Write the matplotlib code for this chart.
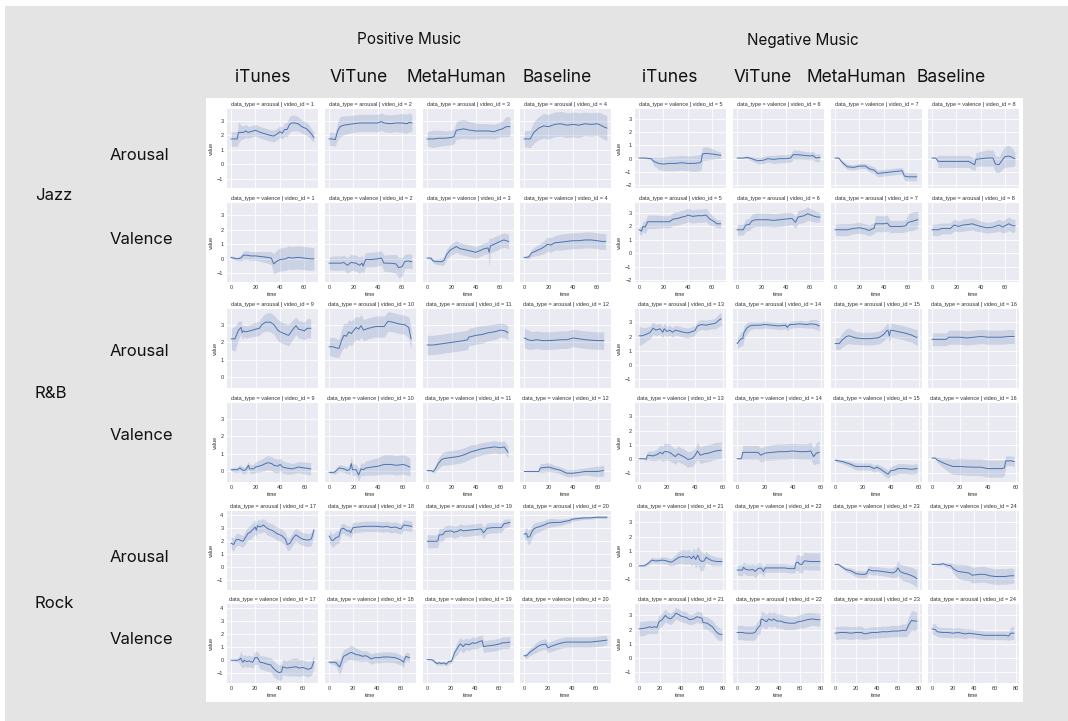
import matplotlib
matplotlib.use("Agg")
import matplotlib.pyplot as plt
import numpy as np
from matplotlib.patches import Rectangle

# ---------------- data (time keypoints, mean, CI half-width) ----------------
# Jazz, positive music
ar1_t = [0,5,6,8,10,12,14,16,20,24,28,32,35,38,40,42,44,46,48,50,52,55,58,62,65,68]
ar1_mean = [1.75,1.75,2.2,2.2,2.2,2.3,2.2,2.25,2.35,2.2,2.1,2.0,1.95,2.1,2.25,2.15,2.4,2.4,2.75,2.85,2.85,2.8,2.6,2.45,2.2,1.85]
ar1_ci = [0.5,0.5,0.75,0.5,0.45,0.45,0.4,0.4,0.4,0.4,0.4,0.4,0.4,0.4,0.4,0.4,0.45,0.5,0.55,0.55,0.55,0.5,0.45,0.45,0.4,0.35]
ar2_t = [0,3,5,7,9,12,16,20,25,30,35,40,43,45,50,55,60,64,66,68]
ar2_mean = [1.75,1.75,1.7,2.3,2.6,2.7,2.75,2.8,2.85,2.85,2.85,2.85,2.95,2.85,2.8,2.85,2.85,2.8,2.9,2.85]
ar2_ci = [0.45,0.45,0.45,0.6,0.7,0.65,0.6,0.6,0.6,0.6,0.6,0.6,0.6,0.6,0.6,0.6,0.65,0.65,0.65,0.6]
ar3_t = [0,5,10,15,20,22,24,27,30,35,40,45,50,55,58,62,65,68]
ar3_mean = [1.75,1.75,1.8,1.8,1.85,1.9,2.35,2.4,2.45,2.35,2.3,2.3,2.3,2.25,2.35,2.45,2.6,2.6]
ar3_ci = [0.5,0.6,0.55,0.5,0.5,0.5,0.6,0.65,0.65,0.6,0.55,0.5,0.5,0.5,0.5,0.55,0.7,0.65]
ar4_t = [0,5,8,12,16,20,25,30,35,40,45,50,55,60,63,65,68]
ar4_mean = [1.75,1.75,2.2,2.5,2.65,2.6,2.75,2.8,2.7,2.75,2.7,2.8,2.75,2.8,2.7,2.6,2.5]
ar4_ci = [0.55,0.6,0.75,0.8,0.85,0.85,0.85,0.85,0.85,0.85,0.85,0.8,0.8,0.8,0.85,0.85,0.85]
va1_t = [0,2,5,8,10,13,16,20,25,30,33,35,37,40,45,47,50,55,60,65,68]
va1_mean = [0.1,0.05,0.0,0.05,0.25,0.25,0.2,0.2,0.15,0.1,0.05,-0.35,-0.2,-0.05,0.0,0.1,0.05,0.1,0.05,0.0,0.0]
va1_ci = [0.1,0.1,0.1,0.2,0.3,0.3,0.3,0.3,0.35,0.4,0.45,0.7,0.75,0.8,0.8,0.8,0.8,0.8,0.8,0.8,0.75]
va2_t = [0,5,10,12,15,18,22,25,27,28,30,35,40,43,45,50,55,57,60,62,65,68]
va2_mean = [-0.3,-0.3,-0.3,-0.25,-0.45,-0.25,-0.3,-0.45,-0.3,-0.5,-0.05,-0.05,0.0,0.05,-0.3,-0.3,-0.35,-0.6,-0.55,-0.2,-0.15,-0.2]
va2_ci = [0.45,0.5,0.5,0.5,0.55,0.55,0.55,0.55,0.55,0.5,0.5,0.5,0.5,0.5,0.55,0.6,0.65,0.7,0.65,0.5,0.5,0.5]
va3_t = [0,3,5,8,12,14,16,19,21,24,27,30,35,40,43,47,50,51,52,55,60,63,67]
va3_mean = [0.05,0.05,-0.15,-0.2,-0.2,-0.1,0.3,0.6,0.7,0.85,0.7,0.65,0.55,0.45,0.55,0.7,0.75,0.45,0.9,1.0,1.2,1.3,1.2]
va3_ci = [0.05,0.1,0.15,0.2,0.25,0.3,0.35,0.4,0.4,0.4,0.4,0.4,0.4,0.4,0.4,0.4,0.4,1.0,0.5,0.5,0.5,0.5,0.5]
va4_t = [0,2,4,6,10,14,17,19,22,25,30,35,40,45,50,55,60,64,67]
va4_mean = [0.1,0.1,0.15,0.4,0.55,0.7,0.85,1.0,0.95,1.1,1.15,1.2,1.25,1.25,1.3,1.3,1.25,1.2,1.2]
va4_ci = [0.05,0.1,0.15,0.25,0.35,0.4,0.45,0.5,0.5,0.5,0.55,0.55,0.55,0.55,0.55,0.55,0.55,0.55,0.55]

# Jazz, negative music
va5_t = [0,5,10,12,16,20,25,30,35,40,45,50,51,52,55,60,64,67]
va5_mean = [0.05,0.05,0.0,-0.2,-0.35,-0.4,-0.35,-0.35,-0.3,-0.35,-0.35,-0.3,-0.2,0.35,0.4,0.35,0.3,0.25]
va5_ci = [0.03,0.05,0.1,0.3,0.45,0.5,0.55,0.55,0.55,0.55,0.6,0.6,0.6,0.5,0.5,0.4,0.3,0.25]
va6_t = [0,5,8,12,15,18,22,25,30,35,40,44,46,50,55,60,62,65,68]
va6_mean = [0.05,0.05,0.1,0.0,-0.1,-0.15,-0.1,0.0,-0.05,0.0,0.0,0.05,0.3,0.3,0.25,0.2,0.25,0.05,0.1]
va6_ci = [0.03,0.05,0.1,0.15,0.2,0.25,0.25,0.25,0.3,0.3,0.3,0.3,0.35,0.35,0.3,0.3,0.3,0.3,0.3]
va7_t = [0,3,6,10,15,20,25,28,32,35,40,45,50,55,57,60,67]
va7_mean = [0.05,0.05,-0.3,-0.6,-0.65,-0.55,-0.55,-0.75,-0.85,-1.1,-1.05,-1.0,-0.95,-0.9,-1.3,-1.35,-1.35]
va7_ci = [0.03,0.05,0.15,0.2,0.2,0.2,0.2,0.25,0.25,0.25,0.25,0.25,0.25,0.25,0.3,0.3,0.3]
va8_t = [0,3,5,10,20,30,33,35,36,40,45,50,52,55,58,60,63,66,68]
va8_mean = [0.05,0.05,-0.2,-0.2,-0.2,-0.2,-0.35,-0.45,-0.05,0.0,0.05,0.05,-0.4,-0.45,-0.05,0.15,0.2,0.1,0.0]
va8_ci = [0.03,0.05,0.45,0.45,0.45,0.45,0.45,0.45,0.5,0.55,0.6,0.6,0.6,0.6,0.7,0.8,0.8,0.7,0.5]
ar5_t = [0,2,3,5,7,12,20,25,28,32,35,38,40,44,48,52,55,58,61,64,67]
ar5_mean = [1.75,1.65,2.0,1.95,2.35,2.35,2.35,2.35,2.55,2.6,2.7,2.75,2.85,2.75,2.8,2.8,2.85,2.55,2.4,2.2,2.2]
ar5_ci = [0.3,0.3,0.4,0.45,0.5,0.5,0.45,0.45,0.5,0.5,0.5,0.5,0.5,0.5,0.5,0.5,0.5,0.45,0.35,0.3,0.3]
ar6_t = [0,5,7,10,12,15,20,25,30,35,40,45,47,48,50,55,58,62,66,68]
ar6_mean = [1.75,1.75,2.1,2.15,2.4,2.5,2.5,2.5,2.45,2.5,2.55,2.6,2.4,2.3,2.7,2.8,2.95,2.8,2.7,2.7]
ar6_ci = [0.4,0.4,0.45,0.45,0.5,0.5,0.5,0.5,0.5,0.5,0.5,0.45,0.45,0.45,0.5,0.5,0.5,0.45,0.4,0.35]
ar7_t = [0,5,10,15,20,25,28,30,32,33,40,43,45,50,55,58,60,64,68]
ar7_mean = [1.75,1.75,1.75,1.85,1.9,1.8,1.7,1.8,1.85,2.2,2.2,2.25,2.0,2.0,2.0,2.05,2.3,2.4,2.5]
ar7_ci = [0.4,0.45,0.45,0.4,0.4,0.4,0.4,0.4,0.4,0.6,0.6,0.6,0.45,0.45,0.45,0.45,0.65,0.7,0.65]
ar8_t = [0,5,8,15,18,22,25,30,33,36,40,45,50,55,58,60,63,66,68]
ar8_mean = [1.75,1.75,1.85,1.85,2.1,2.0,2.1,2.15,2.2,2.1,2.0,1.9,1.95,2.1,1.95,2.05,2.2,2.05,2.05]
ar8_ci = [0.4,0.45,0.4,0.4,0.45,0.4,0.45,0.45,0.45,0.45,0.4,0.4,0.4,0.45,0.45,0.5,0.5,0.5,0.45]

# R&B, positive music
ar9_t = [0,3,6,8,9,10,12,15,20,23,25,28,32,35,38,40,45,47,50,53,55,58,60,62,65]
ar9_mean = [2.2,2.2,2.7,2.85,2.55,2.65,2.6,2.65,2.75,2.8,3.0,3.15,3.15,3.0,2.7,2.6,2.45,2.4,2.7,2.95,2.75,2.7,2.65,2.8,2.8]
ar9_ci = [0.6,0.7,0.5,0.4,0.4,0.35,0.35,0.35,0.4,0.4,0.45,0.5,0.55,0.55,0.6,0.6,0.6,0.6,0.55,0.5,0.5,0.5,0.5,0.55,0.55]
ar10_t = [0,3,5,8,10,12,14,16,18,22,24,26,28,32,38,45,48,52,57,62,65,67]
ar10_mean = [1.75,1.75,1.7,1.65,2.1,2.4,2.35,2.6,2.5,2.85,2.75,2.95,2.7,2.8,2.9,2.9,3.2,3.15,3.05,3.0,2.85,2.2]
ar10_ci = [0.5,0.55,0.55,0.5,0.6,0.7,0.7,0.7,0.7,0.65,0.65,0.65,0.6,0.6,0.6,0.6,0.55,0.55,0.55,0.55,0.6,0.6]
ar11_t = [0,5,10,15,20,25,30,33,34,40,45,50,55,60,64,66]
ar11_mean = [1.85,1.85,1.9,1.95,2.0,2.05,2.1,2.15,2.3,2.4,2.45,2.55,2.6,2.7,2.65,2.55]
ar11_ci = [0.55,0.55,0.55,0.55,0.55,0.55,0.55,0.55,0.5,0.5,0.5,0.45,0.45,0.4,0.4,0.4]
ar12_t = [0,3,6,10,15,20,25,30,35,40,45,50,55,60,65]
ar12_mean = [2.25,2.15,2.1,2.15,2.1,2.1,2.12,2.15,2.15,2.25,2.2,2.15,2.12,2.1,2.1]
ar12_ci = [0.55,0.55,0.5,0.5,0.5,0.5,0.5,0.5,0.5,0.5,0.5,0.5,0.5,0.5,0.5]
va9_t = [0,5,7,9,10,12,14,15,18,20,25,28,30,33,35,38,40,42,45,50,55,60,65]
va9_mean = [0.1,0.1,0.2,0.1,0.05,0.1,0.35,0.15,0.15,0.25,0.35,0.45,0.5,0.45,0.35,0.3,0.4,0.25,0.2,0.15,0.25,0.2,0.15]
va9_ci = [0.1,0.15,0.2,0.2,0.2,0.2,0.25,0.25,0.25,0.3,0.35,0.4,0.4,0.4,0.4,0.4,0.35,0.35,0.35,0.3,0.3,0.35,0.35]
va10_t = [0,4,5,8,12,15,17,18,19,22,24,26,28,30,35,40,45,50,55,60,63,66]
va10_mean = [-0.05,-0.05,0.0,0.2,0.15,0.05,0.15,0.45,0.1,0.1,-0.2,0.15,0.1,0.2,0.25,0.3,0.4,0.4,0.35,0.4,0.35,0.25]
va10_ci = [0.05,0.1,0.15,0.2,0.2,0.2,0.3,0.4,0.35,0.3,0.35,0.35,0.35,0.4,0.45,0.5,0.55,0.55,0.55,0.55,0.55,0.5]
va11_t = [0,3,5,7,9,12,15,20,25,28,30,32,35,40,45,50,55,60,63,66]
va11_mean = [0.05,0.05,0.0,0.2,0.45,0.7,0.75,0.8,0.85,0.9,0.95,1.0,1.1,1.2,1.3,1.35,1.4,1.35,1.4,1.1]
va11_ci = [0.05,0.05,0.1,0.2,0.3,0.35,0.4,0.4,0.4,0.4,0.4,0.4,0.4,0.35,0.35,0.35,0.35,0.35,0.35,0.35]
va12_t = [0,5,12,13,20,25,28,30,35,40,45,50,55,60,65]
va12_mean = [0.0,0.0,0.0,0.2,0.25,0.15,0.1,0.05,-0.1,-0.1,-0.05,0.0,0.0,0.0,0.05]
va12_ci = [0.01,0.01,0.02,0.25,0.25,0.2,0.2,0.2,0.2,0.2,0.2,0.2,0.25,0.3,0.3]

# R&B, negative music
ar13_t = [0,2,5,8,10,12,15,17,18,20,22,24,26,28,32,35,38,40,42,45,48,50,53,55,58,59]
ar13_mean = [2.05,2.05,2.15,2.3,2.6,2.45,2.55,2.3,2.55,2.35,2.45,2.3,2.45,2.4,2.3,2.25,2.35,2.4,2.75,2.85,2.8,2.85,2.9,2.95,3.2,3.25]
ar13_ci = [0.7,0.6,0.5,0.45,0.45,0.4,0.4,0.4,0.4,0.35,0.35,0.35,0.35,0.35,0.35,0.35,0.35,0.35,0.35,0.35,0.35,0.35,0.35,0.4,0.45,0.45]
ar14_t = [0,2,3,4,5,7,9,12,16,20,25,30,35,36,38,40,45,50,53,57,59]
ar14_mean = [1.5,1.75,1.85,1.85,2.3,2.6,2.75,2.8,2.8,2.85,2.8,2.75,2.8,2.65,2.85,2.85,2.9,2.85,2.9,2.85,2.75]
ar14_ci = [0.4,0.45,0.5,0.5,0.45,0.4,0.3,0.25,0.25,0.25,0.25,0.25,0.25,0.25,0.25,0.25,0.25,0.25,0.3,0.35,0.35]
ar15_t = [0,3,5,8,10,13,15,20,25,30,32,35,37,38,39,40,43,45,50,55,58,59]
ar15_mean = [1.5,1.5,1.75,2.0,2.05,1.95,1.9,1.85,1.85,1.9,1.95,2.15,2.4,2.45,2.05,2.45,2.4,2.35,2.25,2.1,1.95,1.95]
ar15_ci = [0.4,0.45,0.5,0.55,0.55,0.5,0.45,0.45,0.45,0.45,0.45,0.45,0.5,0.5,0.4,0.5,0.5,0.5,0.5,0.5,0.55,0.55]
ar16_t = [0,5,10,12,15,20,25,30,35,40,45,50,55,59]
ar16_mean = [1.8,1.8,1.8,1.95,1.95,1.95,1.9,1.95,2.0,1.95,1.95,1.95,2.0,2.0]
ar16_ci = [0.45,0.45,0.45,0.5,0.5,0.5,0.5,0.5,0.5,0.5,0.5,0.5,0.5,0.5]
va13_t = [0,4,5,6,10,13,15,17,18,20,22,24,26,28,30,32,35,38,40,42,44,47,50,55,59]
va13_mean = [0.0,0.0,-0.05,0.25,0.2,0.3,0.45,0.35,0.5,0.5,0.45,0.3,0.15,0.35,0.25,0.15,-0.05,0.0,0.2,0.55,0.25,0.35,0.4,0.55,0.6]
va13_ci = [0.03,0.05,0.1,0.3,0.35,0.4,0.5,0.55,0.6,0.6,0.6,0.55,0.55,0.55,0.55,0.55,0.55,0.55,0.55,0.6,0.6,0.6,0.6,0.6,0.6]
va14_t = [0,3,4,10,15,17,20,25,30,35,40,45,50,53,55,57,59]
va14_mean = [0.0,0.0,0.45,0.45,0.45,0.25,0.4,0.45,0.5,0.5,0.55,0.5,0.5,0.55,0.15,0.4,0.45]
va14_ci = [0.03,0.05,0.5,0.5,0.5,0.5,0.5,0.55,0.55,0.55,0.55,0.55,0.55,0.6,0.6,0.75,0.8]
va15_t = [0,5,10,15,20,25,28,30,33,35,38,40,43,45,50,55,59]
va15_mean = [-0.1,-0.2,-0.35,-0.55,-0.55,-0.55,-0.7,-0.6,-0.75,-0.9,-1.1,-0.85,-0.8,-0.7,-0.7,-0.75,-0.7]
va15_ci = [0.1,0.15,0.2,0.25,0.25,0.25,0.25,0.25,0.25,0.3,0.3,0.3,0.35,0.35,0.35,0.35,0.35]
va16_t = [0,2,4,8,12,15,20,25,30,35,40,45,50,52,53,57,59]
va16_mean = [0.05,0.05,-0.1,-0.3,-0.45,-0.55,-0.55,-0.58,-0.6,-0.6,-0.7,-0.7,-0.7,-0.65,-0.15,-0.15,-0.2]
va16_ci = [0.03,0.05,0.2,0.35,0.5,0.55,0.6,0.6,0.6,0.6,0.6,0.6,0.6,0.55,0.35,0.35,0.35]

# Rock, positive music
ar17_t = [0,2,4,6,8,10,12,14,16,18,20,21,22,24,27,30,35,38,42,45,47,49,52,54,57,60,63,65,67,69]
ar17_mean = [1.85,1.75,2.1,2.15,2.05,2.0,2.3,2.6,2.7,2.9,3.1,2.85,3.2,3.1,3.25,3.0,2.8,2.6,2.45,2.2,1.75,1.85,2.3,2.5,2.3,2.15,2.1,2.1,2.2,2.85]
ar17_ci = [0.5,0.5,0.5,0.45,0.45,0.45,0.5,0.5,0.55,0.55,0.55,0.5,0.5,0.5,0.5,0.5,0.5,0.5,0.5,0.5,0.5,0.5,0.5,0.5,0.5,0.5,0.5,0.5,0.5,0.35]
ar18_t = [0,2,3,6,8,10,12,15,17,18,19,20,25,30,35,40,45,48,52,55,58,60,62,66,69]
ar18_mean = [2.4,2.1,2.05,2.3,2.35,2.95,3.0,2.8,2.8,2.65,2.9,3.05,3.1,3.15,3.15,3.15,3.1,3.15,3.05,3.1,3.0,2.95,3.25,3.2,3.15]
ar18_ci = [0.5,0.5,0.5,0.5,0.5,0.4,0.4,0.4,0.4,0.4,0.4,0.4,0.4,0.4,0.4,0.4,0.4,0.4,0.4,0.4,0.4,0.4,0.4,0.4,0.4]
ar19_t = [0,5,8,9,10,13,15,20,22,25,28,30,35,40,45,47,50,55,60,62,64,67,69]
ar19_mean = [2.0,2.0,2.0,2.05,2.5,2.5,2.75,2.8,2.7,2.75,2.9,2.8,2.85,2.9,2.95,2.65,3.0,3.05,3.05,3.05,3.35,3.4,3.45]
ar19_ci = [0.5,0.5,0.5,0.5,0.5,0.5,0.45,0.45,0.45,0.45,0.45,0.45,0.45,0.45,0.45,0.45,0.4,0.4,0.4,0.35,0.35,0.3,0.3]
ar20_t = [0,2,3,5,6,8,10,12,15,18,20,25,30,35,38,40,45,50,55,60,65,69]
ar20_mean = [2.55,2.6,2.3,2.4,2.65,2.95,3.05,3.1,3.2,3.3,3.4,3.45,3.45,3.55,3.6,3.7,3.75,3.8,3.8,3.85,3.85,3.85]
ar20_ci = [0.35,0.5,0.55,0.55,0.5,0.45,0.4,0.4,0.35,0.35,0.35,0.3,0.25,0.2,0.2,0.15,0.15,0.12,0.1,0.1,0.1,0.1]
va17_t = [0,5,7,8,9,10,11,13,15,18,20,22,24,27,30,33,35,38,40,42,43,46,50,54,57,60,64,67,69]
va17_mean = [0.0,0.0,0.05,0.15,-0.05,-0.15,0.0,-0.1,-0.05,-0.15,0.2,0.2,-0.15,-0.2,-0.3,-0.35,-0.6,-0.85,-0.95,-0.9,-0.5,-0.6,-0.55,-0.5,-0.6,-0.55,-0.7,-0.6,-0.1]
va17_ci = [0.03,0.1,0.3,0.6,0.5,0.45,0.45,0.45,0.45,0.45,0.5,0.5,0.5,0.55,0.55,0.55,0.6,0.6,0.6,0.6,0.6,0.6,0.65,0.7,0.65,0.6,0.6,0.55,0.5]
va18_t = [0,4,6,8,9,10,12,15,18,20,22,25,28,30,32,35,38,42,45,50,55,58,61,62,64,67]
va18_mean = [-0.15,-0.15,-0.2,-0.45,-0.5,-0.2,0.3,0.45,0.6,0.55,0.45,0.4,0.3,0.35,0.3,0.1,0.2,0.2,0.25,0.25,0.2,0.1,-0.05,-0.15,0.3,0.2]
va18_ci = [0.1,0.2,0.3,0.5,0.6,0.6,0.5,0.5,0.55,0.55,0.5,0.45,0.4,0.4,0.4,0.4,0.4,0.4,0.4,0.4,0.4,0.4,0.4,0.4,0.35,0.35]
va19_t = [0,3,5,6,8,10,12,14,16,18,20,21,23,25,27,28,30,32,35,38,40,44,46,47,50,55,60,63,66,69]
va19_mean = [0.05,0.05,0.0,-0.1,-0.25,-0.2,-0.25,-0.2,-0.3,-0.1,-0.1,0.1,0.6,0.9,1.2,1.25,1.05,1.25,1.2,1.35,1.3,1.45,1.5,1.05,1.1,1.15,1.25,1.35,1.35,1.4]
va19_ci = [0.03,0.05,0.1,0.1,0.15,0.15,0.15,0.15,0.15,0.15,0.15,0.2,0.35,0.5,0.5,0.5,0.5,0.45,0.45,0.45,0.45,0.45,0.45,0.45,0.45,0.45,0.45,0.45,0.45,0.45]
va20_t = [0,2,4,6,9,12,15,18,20,22,25,28,32,35,40,45,50,55,60,65,69]
va20_mean = [0.35,0.35,0.55,0.7,0.9,1.1,1.2,1.25,0.95,1.05,1.15,1.25,1.35,1.4,1.4,1.4,1.4,1.4,1.45,1.5,1.55]
va20_ci = [0.15,0.2,0.25,0.3,0.35,0.4,0.4,0.4,0.4,0.4,0.4,0.4,0.4,0.4,0.4,0.4,0.4,0.4,0.4,0.4,0.35]

# Rock, negative music
va21_t = [0,4,6,9,12,15,18,22,26,30,32,35,38,42,45,48,50,52,54,56,58,60,62,64,67,70,75,79]
va21_mean = [-0.05,-0.05,0.0,0.15,0.35,0.3,0.3,0.35,0.3,0.2,0.25,0.4,0.55,0.6,0.55,0.6,0.45,0.65,0.4,0.7,0.35,0.25,0.3,0.55,0.4,0.3,0.25,0.25]
va21_ci = [0.03,0.05,0.1,0.15,0.2,0.2,0.2,0.25,0.25,0.25,0.3,0.35,0.45,0.5,0.5,0.5,0.5,0.55,0.6,0.65,0.7,0.7,0.5,0.4,0.35,0.35,0.3,0.3]
va22_t = [0,5,6,8,12,15,17,20,22,24,25,27,30,35,40,45,50,55,56,58,60,62,64,70,75,79]
va22_mean = [-0.35,-0.35,-0.15,-0.3,-0.35,-0.3,-0.45,-0.25,-0.2,-0.3,-0.45,-0.2,-0.2,-0.2,-0.2,-0.2,-0.25,-0.25,0.15,0.2,0.05,0.05,0.3,0.25,0.25,0.25]
va22_ci = [0.35,0.4,0.4,0.4,0.4,0.4,0.45,0.4,0.35,0.35,0.4,0.3,0.3,0.3,0.3,0.3,0.3,0.3,0.5,0.6,0.6,0.6,0.6,0.6,0.6,0.6]
va23_t = [0,3,6,10,15,20,25,28,30,32,35,40,45,50,55,58,60,62,65,70,75,78]
va23_mean = [0.05,0.05,-0.1,-0.3,-0.4,-0.6,-0.65,-0.65,-0.6,-0.3,-0.4,-0.4,-0.45,-0.5,-0.55,-0.45,-0.2,-0.45,-0.55,-0.65,-0.8,-0.95]
va23_ci = [0.03,0.05,0.1,0.15,0.2,0.25,0.25,0.25,0.25,0.3,0.3,0.3,0.3,0.3,0.35,0.4,0.55,0.5,0.55,0.55,0.6,0.6]
va24_t = [0,4,8,10,14,18,20,25,30,35,38,40,45,50,55,60,65,70,75,78]
va24_mean = [0.05,0.05,0.05,0.1,0.0,-0.05,-0.25,-0.45,-0.5,-0.55,-0.7,-0.7,-0.65,-0.65,-0.75,-0.8,-0.8,-0.8,-0.75,-0.75]
va24_ci = [0.03,0.05,0.1,0.1,0.15,0.2,0.35,0.5,0.55,0.55,0.55,0.55,0.55,0.55,0.55,0.55,0.55,0.55,0.55,0.5]
ar21_t = [0,5,8,10,12,15,17,19,22,25,27,30,33,35,38,40,45,48,52,55,58,60,61,65,70,73,76,79]
ar21_mean = [2.05,2.1,2.15,2.2,2.15,2.2,2.15,2.55,2.7,3.0,2.85,2.75,2.95,3.15,3.05,2.95,2.85,2.7,2.75,2.9,2.85,2.8,2.5,2.45,2.2,1.9,1.7,1.65]
ar21_ci = [0.5,0.5,0.45,0.45,0.45,0.45,0.45,0.45,0.45,0.45,0.4,0.4,0.4,0.4,0.4,0.4,0.4,0.35,0.35,0.4,0.4,0.4,0.45,0.45,0.45,0.45,0.45,0.4]
ar22_t = [0,5,8,15,17,20,22,23,25,28,30,33,35,38,42,45,50,55,58,62,67,72,76,79]
ar22_mean = [1.8,1.8,1.75,1.75,1.8,2.15,2.3,2.75,2.7,2.55,2.75,2.65,2.75,2.6,2.6,2.5,2.45,2.45,2.55,2.6,2.7,2.75,2.7,2.7]
ar22_ci = [0.5,0.5,0.5,0.5,0.5,0.5,0.55,0.55,0.55,0.5,0.5,0.5,0.5,0.5,0.5,0.5,0.45,0.45,0.45,0.5,0.5,0.45,0.45,0.45]
ar23_t = [0,5,10,15,20,25,28,32,35,40,45,50,55,60,65,68,70,73,76,78]
ar23_mean = [1.75,1.8,1.8,1.75,1.8,1.8,1.7,1.75,1.8,1.8,1.85,1.85,1.9,1.9,1.95,1.95,2.3,2.65,2.6,2.6]
ar23_ci = [0.45,0.45,0.45,0.45,0.45,0.45,0.4,0.4,0.4,0.4,0.4,0.4,0.4,0.4,0.45,0.45,0.6,0.7,0.7,0.6]
ar24_t = [0,3,5,10,15,20,25,28,32,35,40,45,50,55,60,65,70,73,75,78]
ar24_mean = [2.05,2.0,1.85,1.8,1.8,1.75,1.8,1.75,1.7,1.75,1.7,1.65,1.6,1.6,1.6,1.6,1.6,1.55,1.75,1.75]
ar24_ci = [0.35,0.4,0.35,0.35,0.35,0.35,0.35,0.35,0.35,0.3,0.3,0.3,0.3,0.3,0.3,0.3,0.3,0.3,0.45,0.45]

# ---------------- labels ----------------
music_labels = ["Positive Music", "Negative Music"]
source_labels = ["iTunes", "ViTune", "MetaHuman", "Baseline"]
genre_labels = ["Jazz", "R&B", "Rock"]
dimension_labels = ["Arousal", "Valence"]

D = globals()

def series(kind, vid):
    p = f"{kind}{vid}_"
    return D[p + "t"], D[p + "mean"], D[p + "ci"]

# grid specs: (genre index, half, top-row type, bottom-row type, first video id, ylim, yticks, xlim, xticks)
grids = [
    (0, 0, "arousal", "valence", 1, (-1.6, 3.85), [-1, 0, 1, 2, 3], (-3.4, 71.4), [0, 20, 40, 60]),
    (0, 1, "valence", "arousal", 5, (-2.15, 3.75), [-2, -1, 0, 1, 2, 3], (-3.4, 71.4), [0, 20, 40, 60]),
    (1, 0, "arousal", "valence", 9, (-0.6, 3.9), [0, 1, 2, 3], (-3.5, 71.0), [0, 20, 40, 60]),
    (1, 1, "arousal", "valence", 13, (-1.65, 3.95), [-1, 0, 1, 2, 3], (-3.0, 62.5), [0, 20, 40, 60]),
    (2, 0, "arousal", "valence", 17, (-1.75, 4.33), [-1, 0, 1, 2, 3, 4], (-3.45, 72.45), [0, 20, 40, 60]),
    (2, 1, "valence", "arousal", 21, (-1.75, 3.8), [-1, 0, 1, 2, 3], (-3.95, 82.95), [0, 20, 40, 60, 80]),
]

# ---------------- figure ----------------
W, H = 1068, 721
fig = plt.figure(figsize=(W / 100, H / 100), dpi=100)
fig.patch.set_facecolor("white")

def fx(px):
    return px / W

def fy(py):
    return 1 - py / H

fig.add_artist(Rectangle((fx(5), 0), 1 - fx(5), fy(6), transform=fig.transFigure,
                         facecolor="#e4e4e4", edgecolor="none", zorder=-5))
fig.add_artist(Rectangle((fx(206), fy(702)), fx(1023) - fx(206), fy(98) - fy(702),
                         transform=fig.transFigure, facecolor="white", edgecolor="none", zorder=-4))

col_x = [[227, 325, 423, 520], [635, 733, 831, 928]]
row_top = [108.5, 203, 309, 403, 511, 604]
AW, AH = 91, 79

LINE = "#4C72B0"
SMALL = 4.0
TXT = "#333333"
small_font = ["Liberation Sans", "DejaVu Sans"]

for gi, half, top_type, bot_type, vid0, ylim, yticks, xlim, xticks in grids:
    for r, dtype in enumerate([top_type, bot_type]):
        top = row_top[gi * 2 + r]
        for c in range(4):
            vid = vid0 + c
            x0 = col_x[half][c]
            ax = fig.add_axes([fx(x0), fy(top + AH), AW / W, AH / H])
            ax.set_facecolor("#EAEAF2")
            for sp in ax.spines.values():
                sp.set_visible(False)
            t, m, s = series("ar" if dtype == "arousal" else "va", vid)
            t = np.asarray(t, float)
            m = np.asarray(m, float)
            s = np.asarray(s, float)
            ax.fill_between(t, m - s, m + s, color=LINE, alpha=0.2, lw=0, zorder=2)
            ax.plot(t, m, color=LINE, lw=0.7, zorder=3)
            ax.set_xlim(*xlim)
            ax.set_ylim(*ylim)
            ax.set_xticks(xticks)
            ax.set_yticks(yticks)
            ax.grid(True, color="white", lw=0.6, zorder=1)
            ax.set_axisbelow(True)
            ax.tick_params(length=0, pad=2.5, labelsize=SMALL, labelcolor=TXT)
            for lab in ax.get_xticklabels() + ax.get_yticklabels():
                lab.set_family(small_font)
            if r == 0:
                ax.tick_params(labelbottom=False)
            else:
                ax.set_xlabel("time", fontsize=SMALL, color=TXT, labelpad=1, family=small_font)
            if c != 0:
                ax.tick_params(labelleft=False)
            else:
                ax.set_ylabel("value", fontsize=SMALL, color=TXT, labelpad=2, family=small_font)
            ax.set_title(f"data_type = {dtype} | video_id = {vid}", fontsize=SMALL,
                         color=TXT, pad=2, family=small_font)

# ---------------- header / row labels ----------------
BIG = ["Inter", "DejaVu Sans"]
music_x = [409, 803]
source_x = [[263, 359, 456, 557], [670, 763, 856, 951]]
for h in range(2):
    fig.text(fx(music_x[h]), fy(40), music_labels[h], ha="center", va="center",
             fontsize=11, family=BIG, color="#111111")
    for c in range(4):
        fig.text(fx(source_x[h][c]), fy(78), source_labels[c], ha="center", va="center",
                 fontsize=12.5, family=BIG, color="#111111")

genre_y = [196, 394, 604]
dim_y = [[155, 239], [352, 436], [557, 639]]
for g in range(3):
    fig.text(fx(35), fy(genre_y[g]), genre_labels[g], ha="left", va="center",
             fontsize=12, family=BIG, color="#111111")
    for d in range(2):
        fig.text(fx(110), fy(dim_y[g][d]), dimension_labels[d], ha="left", va="center",
                 fontsize=12, family=BIG, color="#111111")

fig.savefig("out.png", dpi=100, facecolor=fig.get_facecolor())
